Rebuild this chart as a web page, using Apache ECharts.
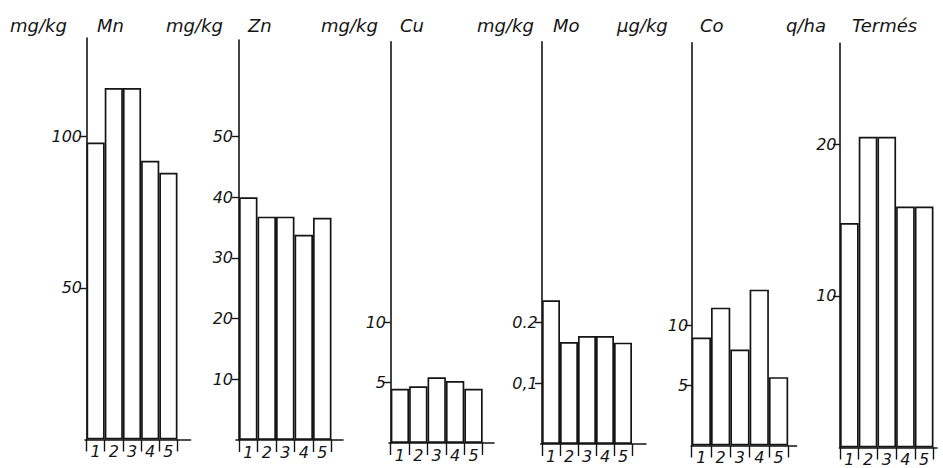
<!DOCTYPE html>
<html><head><meta charset="utf-8">
<script src="https://cdn.jsdelivr.net/npm/echarts@6/dist/echarts.min.js"></script>
<style>html,body{margin:0;padding:0;background:#fff}#c{width:943px;height:468px}</style>
</head><body><div id="c"></div>
<script>
// ---- data ----
const categories = ['1', '2', '3', '4', '5'];
const elements = ['Mn', 'Zn', 'Cu', 'Mo', 'Co', 'Termés'];
const units = ['mg/kg', 'mg/kg', 'mg/kg', 'mg/kg', 'μg/kg', 'q/ha'];
const mnValues = [98, 116, 116, 92, 88];
const znValues = [40, 36.8, 36.8, 33.8, 36.6];
const cuValues = [4.5, 4.7, 5.45, 5.15, 4.5];
const moValues = [0.237, 0.168, 0.178, 0.178, 0.167];
const coValues = [9.0, 11.5, 8.0, 13.0, 5.7];
const termesValues = [14.8, 20.5, 20.5, 15.9, 15.9];
const mnTicks = [50, 100];
const znTicks = [10, 20, 30, 40, 50];
const cuTicks = [5, 10];
const moTicks = [0.1, 0.2];
const coTicks = [5, 10];
const termesTicks = [10, 20];
const mnTickLabels = ['50', '100'];
const znTickLabels = ['10', '20', '30', '40', '50'];
const cuTickLabels = ['5', '10'];
const moTickLabels = ['0,1', '0.2'];
const coTickLabels = ['5', '10'];
const termesTickLabels = ['10', '20'];

const seriesValues = [mnValues, znValues, cuValues, moValues, coValues, termesValues];
const tickValues = [mnTicks, znTicks, cuTicks, moTicks, coTicks, termesTicks];
const tickLabels = [mnTickLabels, znTickLabels, cuTickLabels, moTickLabels, coTickLabels, termesTickLabels];

// ---- layout (pixels) ----
const layout = [
  {x0: 86.5, w: 18.2, extL: 1.5, extR: 13, top: 38, base: 439.5, max: 132.5, unitX: 10, nameX: 97},
  {x0: 239, w: 18.5, extL: 3, extR: 11.5, top: 40, base: 440, max: 65.9, unitX: 166, nameX: 248},
  {x0: 390.7, w: 18.4, extL: 1.7, extR: 11.3, top: 41.7, base: 443, max: 33.3, unitX: 321, nameX: 400},
  {x0: 542, w: 18, extL: 1.3, extR: 14, top: 41.7, base: 444, max: 0.663, unitX: 477, nameX: 553},
  {x0: 691.7, w: 19.3, extL: 0.5, extR: 8.4, top: 42.7, base: 445.5, max: 33.6, unitX: 617, nameX: 700},
  {x0: 840, w: 18.7, extL: 0.5, extR: 3.5, top: 43.3, base: 447.5, max: 26.66, unitX: 786, nameX: 852}
];

const FONT = 'DejaVu Sans';
const INK = '#151515';
const grids = [], xAxes = [], yAxes = [], series = [], titles = [];

layout.forEach((L, i) => {
  grids.push({left: L.x0 - L.extL, top: L.top, width: 5 * L.w + L.extL + L.extR, height: L.base - L.top, containLabel: false});
  xAxes.push({
    type: 'value', gridIndex: i, min: -L.extL / L.w, max: 5 + L.extR / L.w,
    splitLine: {show: false},
    axisLine: {show: true, onZero: true, lineStyle: {color: INK, width: 1.6}},
    axisTick: {show: true, inside: false, length: 12, customValues: categories.map((c, k) => k).concat([categories.length]), lineStyle: {color: INK, width: 1.4}},
    axisLabel: {show: true, margin: 4, customValues: categories.map((c, k) => k + 0.5),
      formatter: v => categories[Math.round(v - 0.5)],
      fontFamily: FONT, fontStyle: 'italic', fontSize: 16, color: INK}
  });
  const tl = tickLabels[i], tv = tickValues[i];
  yAxes.push({
    type: 'value', gridIndex: i, min: 0, max: L.max,
    splitLine: {show: false},
    axisLine: {show: true, onZero: true, lineStyle: {color: INK, width: 1.6}},
    axisTick: {show: true, length: 7, customValues: tv, lineStyle: {color: INK, width: 1.4}},
    axisLabel: {show: true, margin: 3, customValues: tv,
      formatter: v => { const k = tv.findIndex(t => Math.abs(t - v) < 1e-9); return k >= 0 ? tl[k] : ''; },
      fontFamily: FONT, fontStyle: 'italic', fontSize: 16, color: INK}
  });
  series.push({
    type: 'bar', xAxisIndex: i, yAxisIndex: i,
    barWidth: '100%', barCategoryGap: '0%',
    data: seriesValues[i].map((v, k) => [k + 0.5, v]),
    itemStyle: {color: '#ffffff', borderColor: INK, borderWidth: 1.7},
    silent: true
  });
  titles.push({text: units[i], left: L.unitX, top: 16, padding: 0,
    textStyle: {fontFamily: FONT, fontStyle: 'italic', fontWeight: 'normal', fontSize: 18, color: INK}});
  titles.push({text: elements[i], left: L.nameX, top: 16, padding: 0,
    textStyle: {fontFamily: FONT, fontStyle: 'italic', fontWeight: 'normal', fontSize: 18, color: INK}});
});

const chart = echarts.init(document.getElementById('c'), null, {renderer: 'svg'});
chart.setOption({
  backgroundColor: '#ffffff',
  animation: false,
  title: titles,
  grid: grids,
  xAxis: xAxes,
  yAxis: yAxes,
  series: series
});
</script></body></html>
